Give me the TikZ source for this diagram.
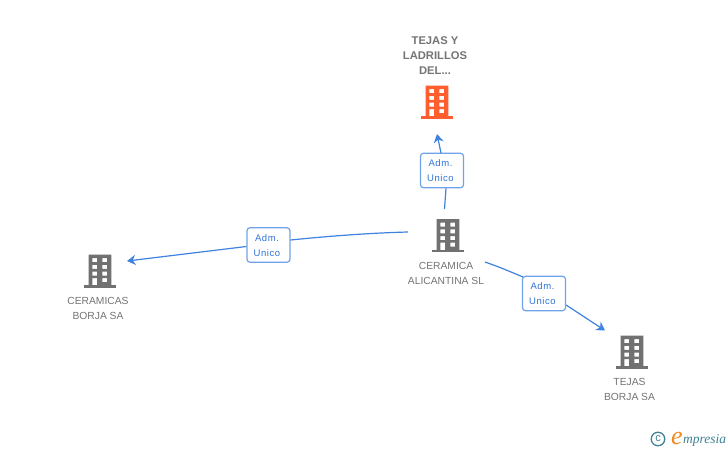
\documentclass[tikz,border=0pt]{standalone}
\usepackage{fontspec}
\setmainfont{Liberation Sans}
\newfontfamily\logofont{Liberation Serif}
\usetikzlibrary{arrows.meta}
\definecolor{edgeblue}{HTML}{3F82E0}
\definecolor{boxblue}{HTML}{6FA3EA}
\definecolor{labelblue}{HTML}{2F74D8}
\definecolor{bldggray}{HTML}{717171}
\definecolor{txtgray}{HTML}{747474}
\definecolor{bldgorange}{HTML}{FF5F2E}
\definecolor{logoteal}{HTML}{3F8296}
\definecolor{logoorange}{HTML}{F08A1E}
\tikzset{
  x=1pt,y=-1pt,
  building/.pic={
    \fill[pic actions] (-16,30.5) rectangle (16,33.3);
    \fill[pic actions,even odd rule] (-11.3,0) rectangle (11.3,31)
      (-7.6,3.6) rectangle (-2.9,7.7) (2.4,3.6) rectangle (7.1,7.7)
      (-7.6,10.3) rectangle (-2.9,14.4) (2.4,10.3) rectangle (7.1,14.4)
      (-7.6,17) rectangle (-2.9,21.1) (2.4,17) rectangle (7.1,21.1)
      (-7.6,23.6) rectangle (-2.9,31) (2.4,23.6) rectangle (7.1,27.7);
  },
  nametext/.style={font=\fontsize{10.3}{15}\selectfont,text=txtgray,align=center,inner sep=0pt},
  titletext/.style={font=\bfseries\fontsize{11.2}{15}\selectfont,text=txtgray,align=center,inner sep=0pt},
  rolebox/.style={draw=boxblue,line width=1.2pt,rounded corners=3pt,fill=white,minimum width=43pt,minimum height=34.5pt,inner sep=0pt},
  roletext/.style={align=center,inner sep=0pt,text=labelblue,font=\fontsize{9.5}{15}\selectfont\addfontfeature{LetterSpace=6}},
  link/.style={draw=edgeblue,line width=1.2pt},
  linkarrow/.style={link,-{Stealth[length=8.5pt,width=10pt]}},
  iconspot/.style={inner sep=0pt,minimum width=32pt,minimum height=33pt},
}
\begin{document}
\begin{tikzpicture}
\useasboundingbox (0,0) rectangle (728,450);
\fill[white] (0,0) rectangle (728,450);
% buildings
\node[iconspot] (top) at (437,102) {};
\node[iconspot] (mid) at (448,235.5) {};
\node[iconspot] (left) at (100,271) {};
\node[iconspot] (right) at (632,352) {};
\pic[fill=bldgorange] at (437,85.5) {building};
\pic[fill=bldggray] at (448,219) {building};
\pic[fill=bldggray] at (100,254.5) {building};
\pic[fill=bldggray] at (632,335.5) {building};
% role boxes
\node[rolebox] (b1) at (442,170.5) {};
\node[rolebox] (b2) at (268.5,245) {};
\node[rolebox] (b3) at (544,293.5) {};
\node[roletext] (b1t) at (440.5,171) {Adm.\\Unico};
\node[roletext] (b2t) at (267,245.5) {Adm.\\Unico};
\node[roletext] (b3t) at (542.5,294) {Adm.\\Unico};
% free ends
\coordinate (m1) at (444.5,209);
\coordinate (t1) at (437,134);
\coordinate (m2) at (408,232);
\coordinate (l2) at (127,261);
\coordinate (m3) at (485,262);
\coordinate (r3) at (605,330.5);
% connectors
\draw[link] (m1) -- (b1.south -| 446,0);
\draw[linkarrow] (441,153) -- (t1);
\draw[link] (m2) .. controls (370,233) and (330,236) .. (b2.east |- 0,240);
\draw[linkarrow] (b2.west |- 0,246.5) -- (l2);
\draw[link] (m3) .. controls (498,266.5) and (510,271.5) .. (523,277);
\draw[linkarrow] (b3.east |- 0,305) -- (r3);
% names
\node[titletext] (toptext) at (435,55.5) {TEJAS Y\\LADRILLOS\\DEL...};
\node[nametext] (midtext) at (446,273.3) {CERAMICA\\ALICANTINA SL};
\node[nametext] (lefttext) at (98,308.3) {CERAMICAS\\BORJA SA};
\node[nametext] (righttext) at (629.5,389.3) {TEJAS\\BORJA SA};
% logo
\node[circle,draw=logoteal,line width=1.3pt,minimum size=13.5pt,inner sep=0pt,text=logoteal,font=\fontsize{11}{11}\selectfont] (copy) at (658,439) {\raisebox{0.5pt}{c}};
\node[inner sep=0pt,text=logoorange,anchor=base west,font=\logofont\itshape\fontsize{26}{26}\selectfont] (logoe) at (671,444) {e};
\node[inner sep=0pt,text=logoteal,anchor=base west,font=\logofont\itshape\fontsize{13.5}{14}\selectfont] (logotext) at (683,443) {mpresia};
\end{tikzpicture}
\end{document}
